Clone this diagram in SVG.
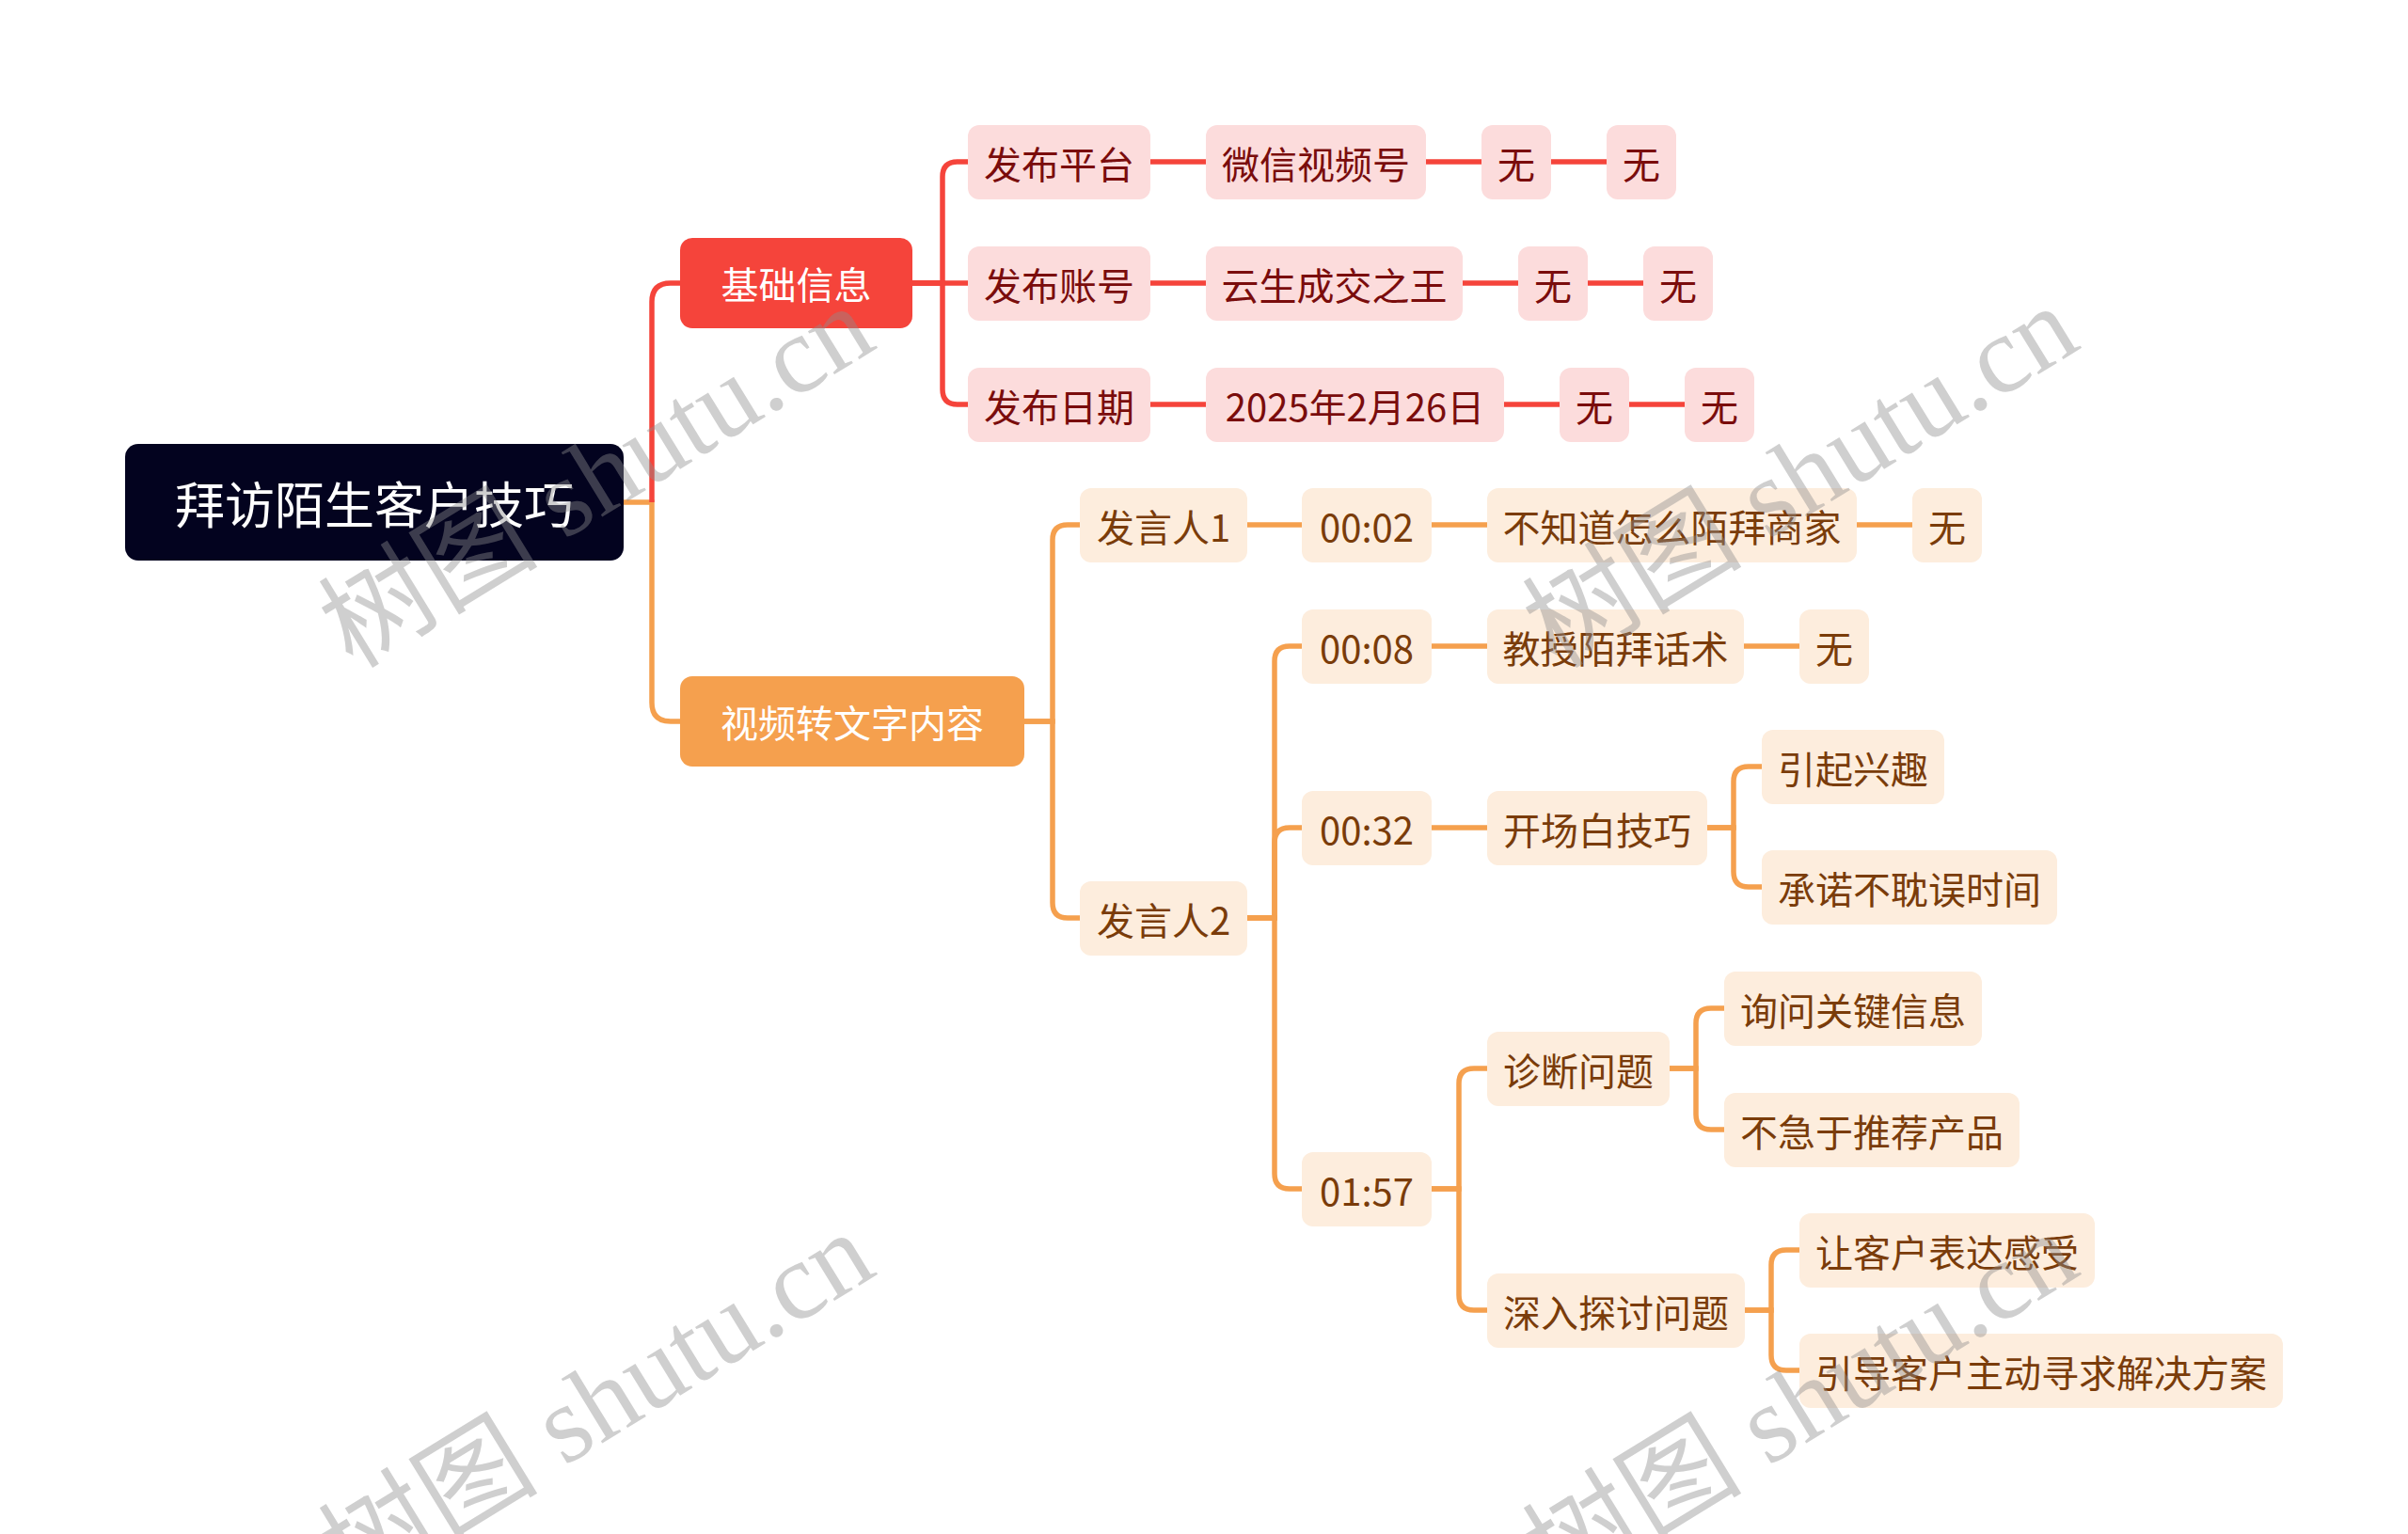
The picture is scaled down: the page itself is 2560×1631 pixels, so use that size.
<svg xmlns="http://www.w3.org/2000/svg" width="2560" height="1631" viewBox="0 0 2560 1631">
<style>
  .t{font-family:"Noto Sans CJK SC","Microsoft YaHei","Liberation Sans",sans-serif;text-anchor:middle;dominant-baseline:central}
  .root rect{fill:#03031f}
  .root text{fill:#ffffff;font-size:53px}
  .l1r rect{fill:#f5443b}
  .l1o rect{fill:#f5a04e}
  .l1r text,.l1o text{fill:#ffffff;font-size:40px}
  .nr rect{fill:#fcdcdc}
  .nr text{fill:#7a0c0c;font-size:40px}
  .no rect{fill:#fdeddd}
  .no text{fill:#7a3c0a;font-size:40px}
  .cr{fill:none;stroke:#f5443b;stroke-width:5.5}
  .co{fill:none;stroke:#f5a04e;stroke-width:5.5}
  .wm{font-family:"Liberation Serif","Noto Sans CJK SC",serif;font-size:117px;fill:#8c8c8c;fill-opacity:0.42}
</style>

<g id="connectors">
  <path class="co" d="M663 534 H693 V747 Q693 767 713 767 H723"/>
  <path class="cr" d="M693 534 V321 Q693 301 713 301 H723"/>
  <path class="cr" d="M970 301 H1002 V188 Q1002 172 1018 172 H1029"/>
  <path class="cr" d="M970 301 H1029"/>
  <path class="cr" d="M970 301 H1002 V414 Q1002 430 1018 430 H1029"/>
  <path class="cr" d="M1223 172 H1282 M1516 172 H1575 M1649 172 H1708"/>
  <path class="cr" d="M1223 301 H1282 M1555 301 H1614 M1688 301 H1747"/>
  <path class="cr" d="M1223 430 H1282 M1599 430 H1658 M1732 430 H1791"/>
  <path class="co" d="M1089 767 H1119 V574 Q1119 558 1135 558 H1148"/>
  <path class="co" d="M1089 767 H1119 V960 Q1119 976 1135 976 H1148"/>
  <path class="co" d="M1326 558 H1384 M1522 558 H1581 M1974 558 H2033"/>
  <path class="co" d="M1326 976 H1355 V703 Q1355 687 1371 687 H1384"/>
  <path class="co" d="M1326 976 H1355 V896 Q1355 880 1371 880 H1384"/>
  <path class="co" d="M1326 976 H1355 V1248 Q1355 1264 1371 1264 H1384"/>
  <path class="co" d="M1522 687 H1581 M1854 687 H1913"/>
  <path class="co" d="M1522 880 H1581"/>
  <path class="co" d="M1815 880 H1843 V831 Q1843 815 1859 815 H1873"/>
  <path class="co" d="M1815 880 H1843 V927 Q1843 943 1859 943 H1873"/>
  <path class="co" d="M1522 1264 H1551 V1152 Q1551 1136 1567 1136 H1581"/>
  <path class="co" d="M1522 1264 H1551 V1377 Q1551 1393 1567 1393 H1581"/>
  <path class="co" d="M1775 1136 H1803 V1088 Q1803 1072 1819 1072 H1833"/>
  <path class="co" d="M1775 1136 H1803 V1185 Q1803 1201 1819 1201 H1833"/>
  <path class="co" d="M1855 1393 H1883 V1345 Q1883 1329 1899 1329 H1913"/>
  <path class="co" d="M1855 1393 H1883 V1441 Q1883 1457 1899 1457 H1913"/>
</g>

<g id="root" class="root"><rect x="133" y="472" width="530" height="124" rx="14"/><text class="t" x="398" y="534">拜访陌生客户技巧</text></g>

<g id="n-jichu" class="l1r"><rect x="723" y="253" width="247" height="96" rx="13"/><text class="t" x="846.5" y="301">基础信息</text></g>
<g id="n-shipin" class="l1o"><rect x="723" y="719" width="366" height="96" rx="13"/><text class="t" x="906" y="767">视频转文字内容</text></g>

<g id="n-pingtai" class="nr"><rect x="1029" y="133" width="194" height="79" rx="12"/><text class="t" x="1126" y="172.5">发布平台</text></g>
<g id="n-weixin" class="nr"><rect x="1282" y="133" width="234" height="79" rx="12"/><text class="t" x="1399" y="172.5">微信视频号</text></g>
<g id="n-wu1a" class="nr"><rect x="1575" y="133" width="74" height="79" rx="12"/><text class="t" x="1612" y="172.5">无</text></g>
<g id="n-wu1b" class="nr"><rect x="1708" y="133" width="74" height="79" rx="12"/><text class="t" x="1745" y="172.5">无</text></g>

<g id="n-zhanghao" class="nr"><rect x="1029" y="262" width="194" height="79" rx="12"/><text class="t" x="1126" y="301.5">发布账号</text></g>
<g id="n-yunsheng" class="nr"><rect x="1282" y="262" width="273" height="79" rx="12"/><text class="t" x="1418.5" y="301.5">云生成交之王</text></g>
<g id="n-wu2a" class="nr"><rect x="1614" y="262" width="74" height="79" rx="12"/><text class="t" x="1651" y="301.5">无</text></g>
<g id="n-wu2b" class="nr"><rect x="1747" y="262" width="74" height="79" rx="12"/><text class="t" x="1784" y="301.5">无</text></g>

<g id="n-riqi" class="nr"><rect x="1029" y="391" width="194" height="79" rx="12"/><text class="t" x="1126" y="430.5">发布日期</text></g>
<g id="n-date" class="nr"><rect x="1282" y="391" width="317" height="79" rx="12"/><text class="t" x="1440.5" y="430.5">2025年2月26日</text></g>
<g id="n-wu3a" class="nr"><rect x="1658" y="391" width="74" height="79" rx="12"/><text class="t" x="1695" y="430.5">无</text></g>
<g id="n-wu3b" class="nr"><rect x="1791" y="391" width="74" height="79" rx="12"/><text class="t" x="1828" y="430.5">无</text></g>

<g id="n-fayan1" class="no"><rect x="1148" y="519" width="178" height="79" rx="12"/><text class="t" x="1237" y="558.5">发言人1</text></g>
<g id="n-t0002" class="no"><rect x="1384" y="519" width="138" height="79" rx="12"/><text class="t" x="1453" y="558.5">00:02</text></g>
<g id="n-buzhidao" class="no"><rect x="1581" y="519" width="393" height="79" rx="12"/><text class="t" x="1777.5" y="558.5">不知道怎么陌拜商家</text></g>
<g id="n-wu4" class="no"><rect x="2033" y="519" width="74" height="79" rx="12"/><text class="t" x="2070" y="558.5">无</text></g>

<g id="n-fayan2" class="no"><rect x="1148" y="937" width="178" height="79" rx="12"/><text class="t" x="1237" y="976.5">发言人2</text></g>
<g id="n-t0008" class="no"><rect x="1384" y="648" width="138" height="79" rx="12"/><text class="t" x="1453" y="687.5">00:08</text></g>
<g id="n-jiaoshou" class="no"><rect x="1581" y="648" width="273" height="79" rx="12"/><text class="t" x="1717.5" y="687.5">教授陌拜话术</text></g>
<g id="n-wu5" class="no"><rect x="1913" y="648" width="74" height="79" rx="12"/><text class="t" x="1950" y="687.5">无</text></g>

<g id="n-t0032" class="no"><rect x="1384" y="841" width="138" height="79" rx="12"/><text class="t" x="1453" y="880.5">00:32</text></g>
<g id="n-kaichang" class="no"><rect x="1581" y="841" width="234" height="79" rx="12"/><text class="t" x="1698" y="880.5">开场白技巧</text></g>
<g id="n-yinqi" class="no"><rect x="1873" y="776" width="194" height="79" rx="12"/><text class="t" x="1970" y="815.5">引起兴趣</text></g>
<g id="n-chengnuo" class="no"><rect x="1873" y="904" width="314" height="79" rx="12"/><text class="t" x="2030" y="943.5">承诺不耽误时间</text></g>

<g id="n-t0157" class="no"><rect x="1384" y="1225" width="138" height="79" rx="12"/><text class="t" x="1453" y="1264.5">01:57</text></g>
<g id="n-zhenduan" class="no"><rect x="1581" y="1097" width="194" height="79" rx="12"/><text class="t" x="1678" y="1136.5">诊断问题</text></g>
<g id="n-xunwen" class="no"><rect x="1833" y="1033" width="274" height="79" rx="12"/><text class="t" x="1970" y="1072.5">询问关键信息</text></g>
<g id="n-buji" class="no"><rect x="1833" y="1162" width="314" height="79" rx="12"/><text class="t" x="1990" y="1201.5">不急于推荐产品</text></g>
<g id="n-shenru" class="no"><rect x="1581" y="1354" width="274" height="79" rx="12"/><text class="t" x="1718" y="1393.5">深入探讨问题</text></g>
<g id="n-rang" class="no"><rect x="1913" y="1290" width="314" height="79" rx="12"/><text class="t" x="2070" y="1329.5">让客户表达感受</text></g>
<g id="n-yindao" class="no"><rect x="1913" y="1418" width="514" height="79" rx="12"/><text class="t" x="2170" y="1457.5">引导客户主动寻求解决方案</text></g>

<g id="watermarks">
  <text class="wm" transform="translate(375,712) rotate(-31.5)">树图 shutu.cn</text>
  <text class="wm" transform="translate(1655,712) rotate(-31.5)">树图 shutu.cn</text>
  <text class="wm" transform="translate(375,1697) rotate(-31.5)">树图 shutu.cn</text>
  <text class="wm" transform="translate(1655,1697) rotate(-31.5)">树图 shutu.cn</text>
</g>
</svg>
